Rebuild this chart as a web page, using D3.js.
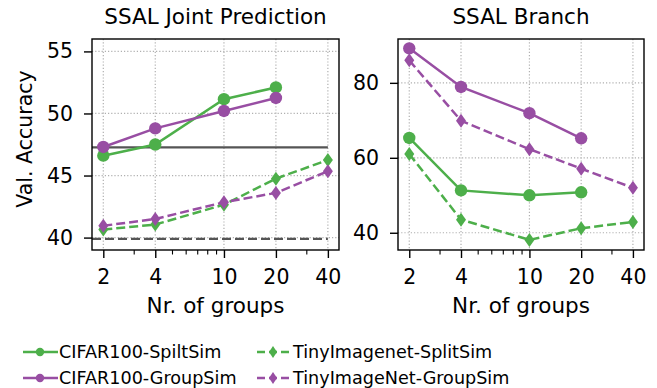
<!DOCTYPE html>
<html><head><meta charset="utf-8">
<script src="https://cdn.jsdelivr.net/npm/d3@7"></script>
<style>
html,body{margin:0;padding:0;background:#fff;}
svg text{font-family:"DejaVu Sans",sans-serif;fill:#000;}
</style></head>
<body><svg id="c" width="657" height="388"></svg>
<script>
const groups = [2, 4, 10, 20, 40];
const xTickLabels = ["2", "4", "10", "20", "40"];
const seriesNames = ["CIFAR100-SpiltSim", "CIFAR100-GroupSim", "TinyImagenet-SplitSim", "TinyImageNet-GroupSim"];
// Joint prediction panel
const jointCifarSplit = [46.6, 47.5, 51.15, 52.1];
const jointCifarGroup = [47.3, 48.8, 50.2, 51.25];
const jointTinySplit = [40.65, 41.05, 42.65, 44.75, 46.25];
const jointTinyGroup = [40.95, 41.5, 42.85, 43.6, 45.35];
const jointBaselineCifar = 47.27;
const jointBaselineTiny = 39.9;
const jointYTicks = [40, 45, 50, 55];
// Branch panel
const branchCifarSplit = [65.3, 51.3, 50.0, 50.8];
const branchCifarGroup = [89.2, 78.9, 71.9, 65.2];
const branchTinySplit = [61.0, 43.5, 38.1, 41.2, 42.9];
const branchTinyGroup = [86.0, 69.9, 62.3, 57.1, 52.0];
const branchYTicks = [40, 60, 80];

const green = "#4daf4a", purple = "#984ea3";
const svg = d3.select("#c");

function panel(opt) {
  const x = d3.scaleLog().domain([1.72, 46.4]).range([opt.x0, opt.x1]);
  const y = d3.scaleLinear().domain(opt.ydom).range([250, 39]);
  const g = svg.append("g");
  const clipId = "clip" + opt.id;
  svg.append("clipPath").attr("id", clipId).append("rect")
    .attr("x", opt.x0).attr("y", 39).attr("width", opt.x1 - opt.x0).attr("height", 211);
  // grid
  g.selectAll(".gx").data(groups).enter().append("line")
    .attr("x1", d => x(d)).attr("x2", d => x(d)).attr("y1", 39).attr("y2", 250)
    .attr("stroke", "#b0b0b0").attr("stroke-width", 1.2).attr("stroke-dasharray", "1.2,2");
  g.selectAll(".gy").data(opt.yticks).enter().append("line")
    .attr("y1", d => y(d)).attr("y2", d => y(d)).attr("x1", opt.x0).attr("x2", opt.x1)
    .attr("stroke", "#b0b0b0").attr("stroke-width", 1.2).attr("stroke-dasharray", "1.2,2");
  const plot = g.append("g").attr("clip-path", `url(#${clipId})`);
  if (opt.baselines) {
    opt.baselines.forEach(b => {
      plot.append("line").attr("x1", x(1.72)).attr("x2", x(40))
        .attr("y1", y(b.v)).attr("y2", y(b.v))
        .attr("stroke", "#555555").attr("stroke-width", 2.4)
        .attr("stroke-dasharray", b.dash ? "9,4" : null);
    });
  }
  const line = d3.line().x(d => x(d[0])).y(d => y(d[1]));
  opt.series.forEach(s => {
    const pts = s.vals.map((v, i) => [groups[i], v]);
    plot.append("path").attr("d", line(pts)).attr("fill", "none")
      .attr("stroke", s.color).attr("stroke-width", 2.5)
      .attr("stroke-dasharray", s.dash ? "9,4" : null);
    pts.forEach(p => {
      if (s.marker === "o") {
        plot.append("circle").attr("cx", x(p[0])).attr("cy", y(p[1])).attr("r", 6.2).attr("fill", s.color);
      } else {
        const cx = x(p[0]), cy = y(p[1]);
        plot.append("path").attr("d", `M${cx},${cy-7}L${cx+5},${cy}L${cx},${cy+7}L${cx-5},${cy}Z`).attr("fill", s.color);
      }
    });
  });
  // frame
  g.append("rect").attr("x", opt.x0).attr("y", 39).attr("width", opt.x1 - opt.x0).attr("height", 211)
    .attr("fill", "none").attr("stroke", "#000").attr("stroke-width", 1.4);
  // x axis
  const xAxis = d3.axisBottom(x).tickValues(groups).tickFormat((d, i) => xTickLabels[i]).tickSize(8).tickPadding(11);
  const ax = g.append("g").attr("transform", "translate(0,250)").call(xAxis);
  ax.select(".domain").remove();
  ax.selectAll("line").attr("stroke-width", 1.4);
  ax.selectAll("text").attr("font-size", 20.5);
  const minors = [3, 5, 6, 7, 8, 9, 30];
  const axm = g.append("g").attr("transform", "translate(0,250)")
    .call(d3.axisBottom(x).tickValues(minors).tickFormat("").tickSize(4.5));
  axm.select(".domain").remove();
  axm.selectAll("line").attr("stroke-width", 1.1);
  // y axis
  const ay = g.append("g").attr("transform", `translate(${opt.x0},0)`)
    .call(d3.axisLeft(y).tickValues(opt.yticks).tickSize(8).tickPadding(11));
  ay.select(".domain").remove();
  ay.selectAll("line").attr("stroke-width", 1.4);
  ay.selectAll("text").attr("font-size", 20.5);
  // title
  g.append("text").attr("x", (opt.x0 + opt.x1) / 2).attr("y", 24).attr("text-anchor", "middle")
    .attr("font-size", 21.5).text(opt.title);
  g.append("text").attr("x", (opt.x0 + opt.x1) / 2).attr("y", 313).attr("text-anchor", "middle")
    .attr("font-size", 21.5).text("Nr. of groups");
}

panel({id: 1, x0: 92, x1: 339, ydom: [39.0, 56.0], yticks: jointYTicks, title: "SSAL Joint Prediction",
  baselines: [{v: jointBaselineCifar, dash: false}, {v: jointBaselineTiny, dash: true}],
  series: [
    {vals: jointCifarSplit, color: green, marker: "o"},
    {vals: jointCifarGroup, color: purple, marker: "o"},
    {vals: jointTinySplit, color: green, marker: "d", dash: true},
    {vals: jointTinyGroup, color: purple, marker: "d", dash: true}
  ]});
panel({id: 2, x0: 398, x1: 644, ydom: [35.4, 91.7], yticks: branchYTicks, title: "SSAL Branch",
  series: [
    {vals: branchCifarSplit, color: green, marker: "o"},
    {vals: branchCifarGroup, color: purple, marker: "o"},
    {vals: branchTinySplit, color: green, marker: "d", dash: true},
    {vals: branchTinyGroup, color: purple, marker: "d", dash: true}
  ]});

svg.append("text").attr("transform", "translate(32,139) rotate(-90)").attr("text-anchor", "middle")
  .attr("font-size", 20.5).text("Val. Accuracy");

// legend
const legendItems = [
  {name: seriesNames[0], color: green, marker: "o", dash: false, x: 23, y: 352},
  {name: seriesNames[1], color: purple, marker: "o", dash: false, x: 23, y: 378},
  {name: seriesNames[2], color: green, marker: "d", dash: true, x: 257, y: 352},
  {name: seriesNames[3], color: purple, marker: "d", dash: true, x: 257, y: 378}
];
const lg = svg.append("g");
legendItems.forEach(it => {
  const w = it.dash ? 32 : 35;
  lg.append("line").attr("x1", it.x).attr("x2", it.x + w).attr("y1", it.y).attr("y2", it.y)
    .attr("stroke", it.color).attr("stroke-width", 2.5).attr("stroke-dasharray", it.dash ? "8,4" : null);
  const cx = it.x + (it.dash ? 16 : 17);
  if (it.marker === "o") lg.append("circle").attr("cx", cx).attr("cy", it.y).attr("r", 4.2).attr("fill", it.color);
  else lg.append("path").attr("d", `M${cx},${it.y-6}L${cx+4},${it.y}L${cx},${it.y+6}L${cx-4},${it.y}Z`).attr("fill", it.color);
  lg.append("text").attr("x", it.dash ? 293 : 59).attr("y", it.y).attr("dy", "0.35em").attr("font-size", 17.6).text(it.name);
});
</script></body></html>
